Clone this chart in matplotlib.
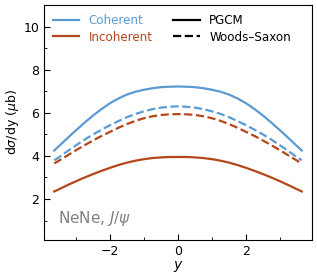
import matplotlib
matplotlib.use("Agg")
import matplotlib.pyplot as plt
from matplotlib.lines import Line2D
from matplotlib.ticker import MultipleLocator

# rapidity grid (left half, mirrored since curves are symmetric)
y_half = [-3.65, -3.5, -3.25, -3.0, -2.75, -2.5, -2.25, -2.0,
          -1.75, -1.5, -1.25, -1.0, -0.75, -0.5, -0.25, 0.0]
coh_pgcm_half = [4.25, 4.47, 4.84, 5.2, 5.55, 5.88, 6.18, 6.45,
                 6.67, 6.85, 6.98, 7.07, 7.14, 7.19, 7.21, 7.22]
coh_ws_half = [3.8, 3.95, 4.23, 4.5, 4.76, 5.0, 5.22, 5.43,
               5.62, 5.8, 5.95, 6.07, 6.17, 6.24, 6.28, 6.3]
inc_ws_half = [3.65, 3.79, 4.03, 4.27, 4.5, 4.72, 4.93, 5.12,
               5.31, 5.48, 5.63, 5.75, 5.84, 5.9, 5.93, 5.94]
inc_pgcm_half = [2.35, 2.46, 2.65, 2.83, 3.0, 3.16, 3.31, 3.45,
                 3.58, 3.69, 3.78, 3.85, 3.9, 3.93, 3.95, 3.95]

def mirror(x, vals=None):
    if vals is None:
        return x + [-v for v in x[-2::-1]]
    return vals + vals[-2::-1]

y = mirror(y_half)
coh_pgcm = mirror(y_half, coh_pgcm_half)
coh_ws = mirror(y_half, coh_ws_half)
inc_ws = mirror(y_half, inc_ws_half)
inc_pgcm = mirror(y_half, inc_pgcm_half)

blue = "#5b9bd3"
brown = "#b5461a"

plt.rcParams["font.size"] = 9
fig = plt.figure(figsize=(3.17, 2.8), dpi=100)
ax = fig.add_axes([0.139, 0.143, 0.845, 0.839])

ax.plot(y, coh_pgcm, color=blue, lw=1.6)
ax.plot(y, coh_ws, color=blue, lw=1.6, ls="--")
ax.plot(y, inc_ws, color=brown, lw=1.6, ls="--")
ax.plot(y, inc_pgcm, color=brown, lw=1.6)

ax.set_xlim(-3.95, 3.95)
ax.set_ylim(0.1, 11)
ax.xaxis.set_major_locator(MultipleLocator(2))
ax.xaxis.set_minor_locator(MultipleLocator(1))
ax.yaxis.set_major_locator(MultipleLocator(2))
ax.yaxis.set_minor_locator(MultipleLocator(1))
ax.tick_params(which="both", direction="in")
ax.tick_params(which="major", length=4)
ax.tick_params(which="minor", length=2)

ax.set_xlabel("$y$", fontsize=10, labelpad=1)
ax.set_ylabel(r"d$\sigma$/dy ($\mu$b)", fontsize=9, labelpad=2)

h1 = [Line2D([], [], color=blue, lw=1.6), Line2D([], [], color=brown, lw=1.6)]
leg1 = ax.legend(h1, ["Coherent", "Incoherent"], loc="upper left", frameon=False,
                 handlelength=2.2, borderaxespad=0.35, labelspacing=0.3, fontsize=8.6)
for t, c in zip(leg1.get_texts(), [blue, brown]):
    t.set_color(c)
ax.add_artist(leg1)
h2 = [Line2D([], [], color="black", lw=1.6), Line2D([], [], color="black", lw=1.6, ls="--")]
ax.legend(h2, ["PGCM", "Woods–Saxon"], loc="upper right", frameon=False,
          bbox_to_anchor=(0.955, 1.0), handlelength=2.2, borderaxespad=0.35,
          labelspacing=0.3, fontsize=8.6)

ax.text(-3.55, 1.1, r"NeNe, $J/\psi$", color="gray", fontsize=11, va="center")

fig.savefig("out.png", dpi=100)
